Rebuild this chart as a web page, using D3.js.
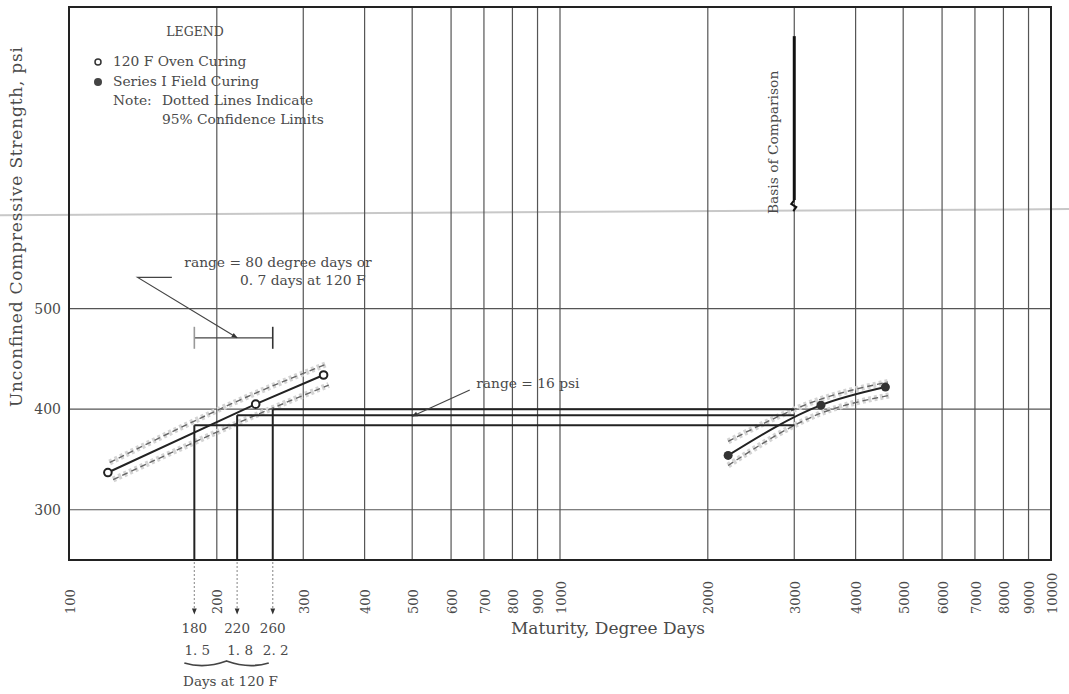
<!DOCTYPE html>
<html>
<head>
<meta charset="utf-8">
<script src="https://cdn.jsdelivr.net/npm/d3@7"></script>
<style>
  body { margin: 0; background: #fff; }
  text { font-family: "DejaVu Serif", serif; fill: #4a4a4a; }
</style>
</head>
<body>
<div class="vis"></div>
<script>
// tick labels and gridlines
const xTickLabels = [100, 200, 300, 400, 500, 600, 700, 800, 900, 1000, 2000, 3000, 4000, 5000, 6000, 7000, 8000, 9000, 10000];
const xGridValues = [200, 300, 400, 500, 600, 700, 800, 900, 1000, 2000, 3000, 4000, 5000, 6000, 7000, 8000, 9000];
const yTickLabels = [300, 400, 500];

// 120 F oven curing (open circles) and its 95% limits
const ovenPoints = [
  { maturity: 120, strength: 337 },
  { maturity: 240, strength: 405 },
  { maturity: 330, strength: 434 }
];
const ovenUpper = [
  { maturity: 121, strength: 347 },
  { maturity: 240, strength: 416 },
  { maturity: 335, strength: 445 }
];
const ovenLower = [
  { maturity: 123, strength: 330 },
  { maturity: 240, strength: 394 },
  { maturity: 338, strength: 424 }
];

// Series I field curing (filled circles) and its 95% limits
const fieldPoints = [
  { maturity: 2200, strength: 354 },
  { maturity: 3400, strength: 404 },
  { maturity: 4600, strength: 422 }
];
const fieldUpper = [
  { maturity: 2200, strength: 368 },
  { maturity: 3400, strength: 410 },
  { maturity: 4650, strength: 427 }
];
const fieldLower = [
  { maturity: 2200, strength: 344 },
  { maturity: 3400, strength: 396 },
  { maturity: 4720, strength: 414 }
];

// comparison lines: maturity at 120 F, strength, days at 120 F
const compMaturity = [180, 220, 260];
const compStrength = [384, 394, 400];
const compDays = ["1. 5", "1. 8", "2. 2"];
const basisMaturity = 3000;

// range = 80 degree days bar
const rangeBarMaturity = [180, 260];
const rangeBarStrength = 471;

// Set up the chart dimensions
const margin = { top: 7, right: 18, bottom: 134, left: 69 };
const width = 1069 - margin.left - margin.right;
const height = 694 - margin.top - margin.bottom;

const root = d3.select(".vis")
  .append("svg")
  .attr("width", width + margin.left + margin.right)
  .attr("height", height + margin.top + margin.bottom);

const defs = root.append("defs");
defs.append("marker")
  .attr("id", "arrow")
  .attr("viewBox", "0 0 10 10")
  .attr("refX", 9).attr("refY", 5)
  .attr("markerWidth", 7).attr("markerHeight", 5)
  .attr("orient", "auto")
  .append("path")
  .attr("d", "M0,1 L10,5 L0,9 Z")
  .attr("fill", "#333");

const svg = root.append("g")
  .attr("transform", "translate(" + margin.left + "," + margin.top + ")");

// Define the scales
const xScale = d3.scaleLog().domain([100, 10000]).range([0, width]);
const yScale = d3.scaleLinear().domain([250, 800]).range([height, 0]);

// faint scan line across the page
svg.append("line")
  .attr("x1", -margin.left).attr("x2", width + margin.right)
  .attr("y1", yScale(593)).attr("y2", yScale(599))
  .attr("stroke", "#c8c8c8")
  .attr("stroke-width", 2);

// vertical gridlines
svg.selectAll(".xgrid")
  .data(xGridValues)
  .enter().append("line")
  .attr("class", "xgrid")
  .attr("x1", d => xScale(d)).attr("x2", d => xScale(d))
  .attr("y1", 0).attr("y2", height)
  .attr("stroke", "#555")
  .attr("stroke-width", 1.2);

// horizontal gridlines
svg.selectAll(".ygrid")
  .data(yTickLabels)
  .enter().append("line")
  .attr("class", "ygrid")
  .attr("x1", 0).attr("x2", width)
  .attr("y1", d => yScale(d)).attr("y2", d => yScale(d))
  .attr("stroke", "#555")
  .attr("stroke-width", 1.2);

// frame
svg.append("rect")
  .attr("width", width).attr("height", height)
  .attr("fill", "none")
  .attr("stroke", "#222")
  .attr("stroke-width", 2);

// x tick labels, rotated
svg.selectAll(".xlabel")
  .data(xTickLabels)
  .enter().append("text")
  .attr("class", "xlabel")
  .attr("transform", d => "translate(" + (xScale(d) + 1) + "," + (height + 54) + ") rotate(-90)")
  .attr("dy", "0.35em")
  .style("font-size", "13px")
  .text(d => d);

// y tick labels
svg.selectAll(".ylabel")
  .data(yTickLabels)
  .enter().append("text")
  .attr("class", "ylabel")
  .attr("x", -8)
  .attr("y", d => yScale(d))
  .attr("dy", "0.35em")
  .attr("text-anchor", "end")
  .style("font-size", "14px")
  .text(d => d);

// Add y-axis label
svg.append("text")
  .attr("transform", "rotate(-90)")
  .attr("x", -400)
  .attr("y", -margin.left + 22)
  .attr("textLength", 360)
  .attr("lengthAdjust", "spacing")
  .style("font-size", "17px")
  .text("Unconfined Compressive Strength, psi");

// Add x-axis label
svg.append("text")
  .attr("x", 539)
  .attr("y", height + 74)
  .attr("text-anchor", "middle")
  .style("font-size", "17px")
  .text("Maturity, Degree Days");

// confidence limits (dotted)
const confLine = d3.line()
  .x(d => xScale(d.maturity))
  .y(d => yScale(d.strength))
  .curve(d3.curveMonotoneX);

[ovenUpper, ovenLower, fieldUpper, fieldLower].forEach(band => {
  svg.append("path")
    .datum(band)
    .attr("fill", "none")
    .attr("stroke", "#d4d4d4")
    .attr("stroke-width", 6)
    .attr("stroke-dasharray", "3,3")
    .attr("d", confLine);
  svg.append("path")
    .datum(band)
    .attr("fill", "none")
    .attr("stroke", "#666")
    .attr("stroke-width", 1.4)
    .attr("stroke-dasharray", "6,4")
    .attr("d", confLine);
});

// comparison lines
compMaturity.forEach((m, i) => {
  svg.append("line")
    .attr("x1", xScale(m)).attr("x2", xScale(m))
    .attr("y1", yScale(compStrength[i])).attr("y2", height)
    .attr("stroke", "#222")
    .attr("stroke-width", 2);
  svg.append("line")
    .attr("x1", xScale(m)).attr("x2", xScale(basisMaturity))
    .attr("y1", yScale(compStrength[i])).attr("y2", yScale(compStrength[i]))
    .attr("stroke", "#222")
    .attr("stroke-width", 2);
  // dotted drop below the axis
  svg.append("line")
    .attr("x1", xScale(m)).attr("x2", xScale(m))
    .attr("y1", height + 2).attr("y2", height + 54)
    .attr("stroke", "#999")
    .attr("stroke-width", 1.2)
    .attr("stroke-dasharray", "2,2")
    .attr("marker-end", "url(#arrow)");
  svg.append("text")
    .attr("x", xScale(m))
    .attr("y", height + 73)
    .attr("text-anchor", "middle")
    .style("font-size", "13.5px")
    .text(m);
  svg.append("text")
    .attr("x", xScale(m) + 3)
    .attr("y", height + 95)
    .attr("text-anchor", "middle")
    .style("font-size", "13.5px")
    .text(compDays[i]);
});

// brace and "Days at 120 F"
const bx0 = xScale(compMaturity[0]) - 10;
const bx1 = xScale(compMaturity[2]) - 4;
const bm = (bx0 + bx1) / 2;
svg.append("path")
  .attr("d", "M" + bx0 + "," + (height + 103) + " Q" + (bx0 + 20) + "," + (height + 109) + " " + bm + "," + (height + 101)
    + " Q" + (bx1 - 20) + "," + (height + 109) + " " + bx1 + "," + (height + 103))
  .attr("fill", "none")
  .attr("stroke", "#444")
  .attr("stroke-width", 1.8);
svg.append("text")
  .attr("x", bm + 4)
  .attr("y", height + 126)
  .attr("text-anchor", "middle")
  .style("font-size", "13.5px")
  .text("Days at 120 F");

// Basis of Comparison marker
svg.append("line")
  .attr("x1", xScale(basisMaturity)).attr("x2", xScale(basisMaturity))
  .attr("y1", yScale(771)).attr("y2", yScale(608))
  .attr("stroke", "#111")
  .attr("stroke-width", 3);
svg.append("path")
  .attr("d", "M" + xScale(basisMaturity) + "," + yScale(608) + " l-3,4 l5,3 l-3,4")
  .attr("fill", "none")
  .attr("stroke", "#111")
  .attr("stroke-width", 2);
svg.append("text")
  .attr("transform", "translate(" + (xScale(basisMaturity) - 16) + "," + yScale(594) + ") rotate(-90)")
  .style("font-size", "13.8px")
  .text("Basis of Comparison");

// range = 80 degree days annotation
svg.append("line")
  .attr("x1", xScale(rangeBarMaturity[0])).attr("x2", xScale(rangeBarMaturity[1]))
  .attr("y1", yScale(rangeBarStrength)).attr("y2", yScale(rangeBarStrength))
  .attr("stroke", "#444")
  .attr("stroke-width", 1.3);
rangeBarMaturity.forEach((m, i) => {
  svg.append("line")
    .attr("x1", xScale(m)).attr("x2", xScale(m))
    .attr("y1", yScale(rangeBarStrength) - 11).attr("y2", yScale(rangeBarStrength) + 11)
    .attr("stroke", i === 0 ? "#999" : "#333")
    .attr("stroke-width", 1.6);
});
svg.append("path")
  .attr("d", "M" + xScale(162) + "," + yScale(531) + " L" + xScale(138) + "," + yScale(531)
    + " L" + xScale(220) + "," + yScale(rangeBarStrength))
  .attr("fill", "none")
  .attr("stroke", "#444")
  .attr("stroke-width", 1.2)
  .attr("marker-end", "url(#arrow)");
svg.append("text")
  .attr("x", xScale(180) - 10)
  .attr("y", yScale(541))
  .style("font-size", "13.8px")
  .text("range = 80 degree days or");
svg.append("text")
  .attr("x", xScale(223))
  .attr("y", yScale(524))
  .style("font-size", "13.8px")
  .text("0. 7 days at 120 F");

// range = 16 psi annotation
svg.append("line")
  .attr("x1", xScale(655)).attr("x2", xScale(500))
  .attr("y1", yScale(419)).attr("y2", yScale(393))
  .attr("stroke", "#444")
  .attr("stroke-width", 1.2)
  .attr("marker-end", "url(#arrow)");
svg.append("text")
  .attr("x", xScale(675))
  .attr("y", yScale(421))
  .style("font-size", "13.8px")
  .text("range = 16 psi");

// data lines
const ovenLine = d3.line()
  .x(d => xScale(d.maturity))
  .y(d => yScale(d.strength));
const fieldLine = d3.line()
  .x(d => xScale(d.maturity))
  .y(d => yScale(d.strength))
  .curve(d3.curveMonotoneX);

svg.append("path")
  .datum(ovenPoints)
  .attr("fill", "none")
  .attr("stroke", "#222")
  .attr("stroke-width", 2)
  .attr("d", ovenLine);
svg.append("path")
  .datum(fieldPoints)
  .attr("fill", "none")
  .attr("stroke", "#222")
  .attr("stroke-width", 2)
  .attr("d", fieldLine);

svg.selectAll(".oven")
  .data(ovenPoints)
  .enter().append("circle")
  .attr("class", "oven")
  .attr("cx", d => xScale(d.maturity))
  .attr("cy", d => yScale(d.strength))
  .attr("r", 3.8)
  .attr("fill", "#fff")
  .attr("stroke", "#222")
  .attr("stroke-width", 2);

svg.selectAll(".field")
  .data(fieldPoints)
  .enter().append("circle")
  .attr("class", "field")
  .attr("cx", d => xScale(d.maturity))
  .attr("cy", d => yScale(d.strength))
  .attr("r", 4.5)
  .attr("fill", "#333");

// Legend
const legend = svg.append("g").attr("transform", "translate(29,0)");
legend.append("text")
  .attr("x", 97).attr("y", 29)
  .attr("text-anchor", "middle")
  .style("font-size", "12.5px")
  .text("LEGEND");
legend.append("circle")
  .attr("cx", 0).attr("cy", 55).attr("r", 3)
  .attr("fill", "#fff").attr("stroke", "#333").attr("stroke-width", 1.5);
legend.append("circle")
  .attr("cx", 0).attr("cy", 75).attr("r", 4)
  .attr("fill", "#444");
legend.append("text").attr("x", 15).attr("y", 59).style("font-size", "13.8px").text("120 F Oven Curing");
legend.append("text").attr("x", 15).attr("y", 79).style("font-size", "13.8px").text("Series I Field Curing");
legend.append("text").attr("x", 15).attr("y", 98).style("font-size", "13.8px").text("Note:");
legend.append("text").attr("x", 64).attr("y", 98).style("font-size", "13.8px").text("Dotted Lines Indicate");
legend.append("text").attr("x", 64).attr("y", 117).style("font-size", "13.8px").text("95% Confidence Limits");
</script>
</body>
</html>
